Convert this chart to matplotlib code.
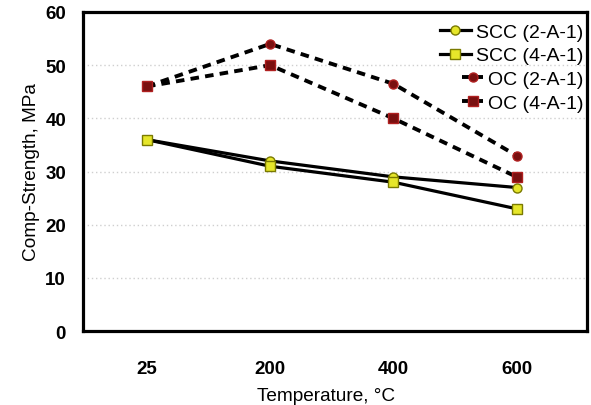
import matplotlib
matplotlib.use("Agg")
import matplotlib.pyplot as plt
from matplotlib.legend_handler import HandlerLine2D

temps = ["25", "200", "400", "600"]
scc_2a1 = [36, 32, 29, 27]
scc_4a1 = [36, 31, 28, 23]
oc_2a1 = [46, 54, 46.5, 33]
oc_4a1 = [46, 50, 40, 29]

plt.rcParams['font.family'] = ['Liberation Sans', 'DejaVu Sans']

fig = plt.figure(figsize=(5.91, 4.06), dpi=100)
ax = fig.add_axes([0.140, 0.182, 0.853, 0.786])

x = list(range(len(temps)))
yel = "#e6e62a"
red = "#7a1010"

l1, = ax.plot(x, scc_2a1, color="black", lw=2.3, marker="o", ms=6.5, mfc=yel, mec="#7a7a00",
              mew=1.0, label="SCC (2-A-1)", zorder=3)
l2, = ax.plot(x, scc_4a1, color="black", lw=2.3, marker="s", ms=6.5, mfc=yel, mec="#7a7a00",
              mew=1.0, label="SCC (4-A-1)", zorder=3)
l3, = ax.plot(x, oc_2a1, color="black", lw=2.8, ls=(0, (2.2, 1.6)), marker="o", ms=6.5, mfc=red,
              mec="#b02020", mew=1.0, label="OC (2-A-1)", zorder=3)
l4, = ax.plot(x, oc_4a1, color="black", lw=2.8, ls=(0, (2.2, 1.6)), marker="s", ms=6.5, mfc=red,
              mec="#b02020", mew=1.0, label="OC (4-A-1)", zorder=3)

ax.set_xlim(-0.52, 3.57)
ax.set_ylim(0, 60)
ax.set_yticks(range(0, 61, 10))
ax.set_xticks(x)
ax.set_xticklabels(temps)
ax.tick_params(axis="both", length=0, labelsize=13.5)
ax.tick_params(axis="x", pad=21)
ax.tick_params(axis="y", pad=12)
for t in ax.get_xticklabels() + ax.get_yticklabels():
    t.set_fontweight("bold")

ax.yaxis.grid(True, ls=(0, (1, 2)), color="#cfcfcf", lw=1.0)
ax.set_axisbelow(True)
for s in ax.spines.values():
    s.set_linewidth(2.3)
    s.set_color("black")

ax.set_xlabel("Temperature, \u00b0C", fontsize=13.7, labelpad=5)
ax.xaxis.set_label_coords(0.482, -0.175)
ax.set_ylabel("Comp-Strength, MPa", fontsize=13.7, labelpad=4)

short = HandlerLine2D(xpad=0.55)
leg = ax.legend(loc="upper right", frameon=False, fontsize=14, handlelength=1.6,
                handletextpad=0.25, labelspacing=0.32, borderaxespad=0.0,
                bbox_to_anchor=(1.008, 0.99),
                handler_map={l3: short, l4: short})
for col in leg._legend_handle_box.get_children():
    col.align = "right"

fig.savefig("out.png", dpi=100)
